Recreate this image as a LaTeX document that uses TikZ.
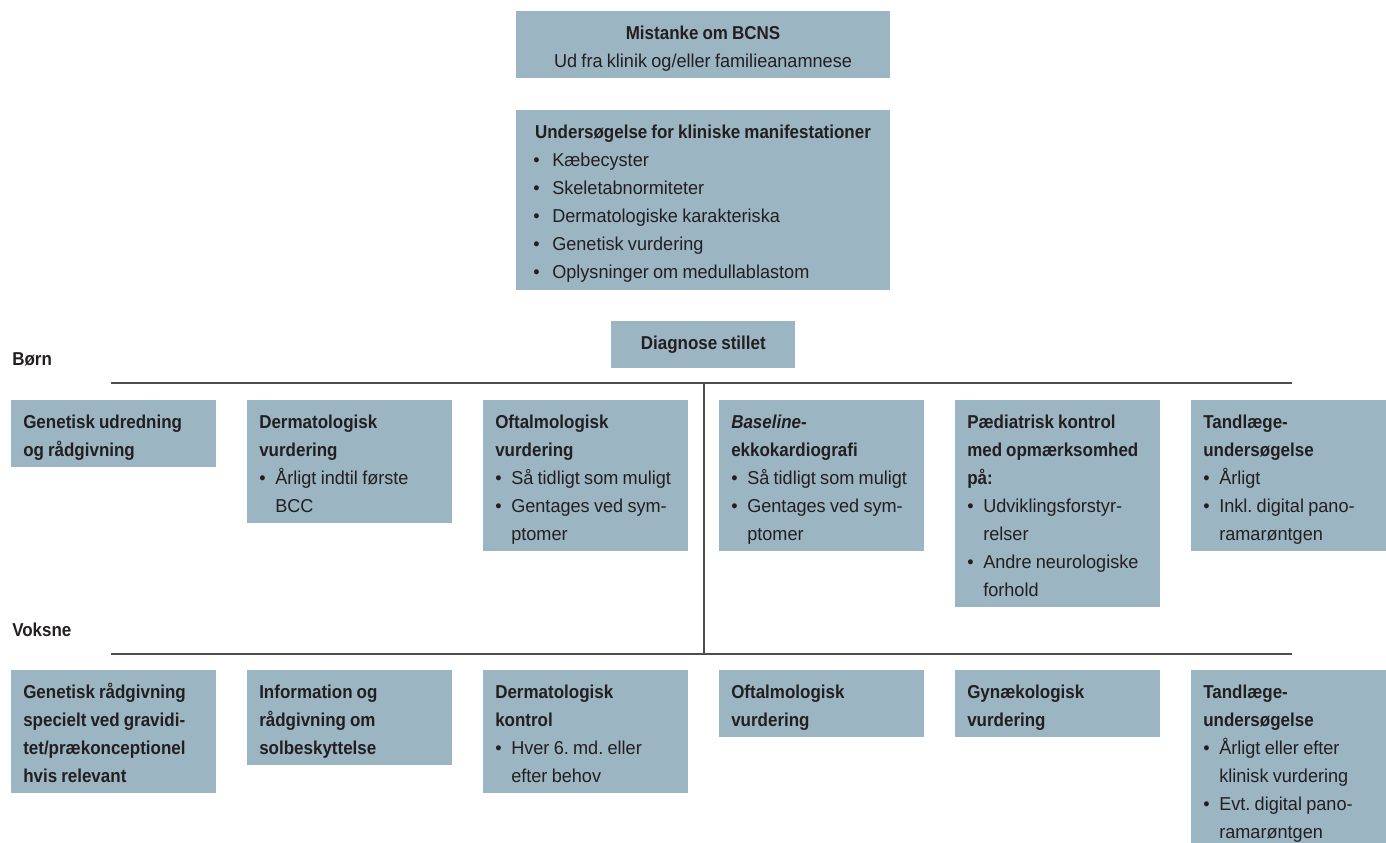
\documentclass[tikz,border=0pt]{standalone}
\usepackage{fontspec}
\newfontfamily\nar[WordSpace=0.85,
  UprightFeatures={FakeStretch=0.97},
  BoldFeatures={FakeStretch=0.91},
  ItalicFeatures={FakeStretch=0.97},
  BoldItalicFeatures={FakeStretch=0.91}]{Liberation Sans}
\definecolor{boxc}{HTML}{9CB5C3}
\definecolor{textc}{HTML}{231F20}
\definecolor{linec}{HTML}{4D4D4D}
\newcommand\fs{\nar\fontsize{14pt}{21pt}\selectfont\frenchspacing}
\newcommand\bu{\makebox[12pt][l]{•}}
\newcommand\bi{\hspace*{12pt}}
\newcommand\bub{\makebox[14.25pt][l]{•}}
\begin{document}
\begin{tikzpicture}[x=0.75pt,y=-0.75pt,
  box/.style={fill=boxc, inner sep=0pt, anchor=north west, minimum width=153.75pt},
  txt/.style={anchor=north west, inner sep=0pt, align=left, font=\fs, text=textc},
  ctxt/.style={inner sep=0pt, align=center, font=\fs, text=textc},
  lbl/.style={anchor=base west, inner sep=0pt, font=\fs\bfseries, text=textc},
  rule/.style={draw=linec, line width=1.3pt}]
\path[use as bounding box, clip] (0,0) rectangle (1386,843);
% top boxes
\node[box, minimum width=280.5pt, minimum height=50.25pt] (b1) at (516,11) {};
\node[ctxt, anchor=north] (t1) at (703,19.4) {\strut\textbf{Mistanke om BCNS}\\Ud fra klinik og/eller familieanamnese};
\node[box, minimum width=280.5pt, minimum height=135pt] (b2) at (516,110) {};
\node[ctxt, anchor=north] (t2) at (703,118.4) {\strut\textbf{Undersøgelse for kliniske manifestationer}};
\node[txt] (t2l) at (533,146.4) {\strut\bub Kæbecyster\\\bub Skeletabnormiteter\\\bub Dermatologiske karakteriska\\\bub Genetisk vurdering\\\bub Oplysninger om medullablastom};
\node[box, minimum width=138pt, minimum height=35.25pt, font=\fs\bfseries, text=textc] (b3) at (611,321) {Diagnose stillet};
% labels
\node[lbl] (born) at (12,365) {Børn};
\node[lbl] (voksne) at (12,636) {Voksne};
% rules
\coordinate (h1l) at (111,383); \coordinate (h1r) at (1292,383);
\coordinate (h2l) at (111,654); \coordinate (h2r) at (1292,654);
\coordinate (vt) at (704,383); \coordinate (vb) at (704,654);
\draw[rule] (h1l) -- (h1r);
\draw[rule] (h2l) -- (h2r);
\draw[rule] (vt) -- (vb);
% Boern row
\node[box, minimum height=50.25pt] (c1) at (11,400) {};
\node[box, minimum height=92.25pt] (c2) at (247,400) {};
\node[box, minimum height=113.25pt] (c3) at (483,400) {};
\node[box, minimum height=113.25pt] (c4) at (719,400) {};
\node[box, minimum height=155.25pt] (c5) at (955,400) {};
\node[box, minimum width=146.25pt, minimum height=113.25pt] (c6) at (1191,400) {};
\node[txt] (tc1) at ([shift={(12,8.4)}]c1.north west) {\strut\textbf{Genetisk udredning}\\\textbf{og rådgivning}};
\node[txt] (tc2) at ([shift={(12,8.4)}]c2.north west) {\strut\textbf{Dermatologisk}\\\textbf{vurdering}\\\bu Årligt indtil første\\\bi BCC};
\node[txt] (tc3) at ([shift={(12,8.4)}]c3.north west) {\strut\textbf{Oftalmologisk}\\\textbf{vurdering}\\\bu Så tidligt som muligt\\\bu Gentages ved sym-\\\bi ptomer};
\node[txt] (tc4) at ([shift={(12,8.4)}]c4.north west) {\strut\textbf{\textit{Baseline}-}\\\textbf{ekkokardiografi}\\\bu Så tidligt som muligt\\\bu Gentages ved sym-\\\bi ptomer};
\node[txt] (tc5) at ([shift={(12,8.4)}]c5.north west) {\strut\textbf{Pædiatrisk kontrol}\\\textbf{med opmærksomhed}\\\textbf{på:}\\\bu Udviklingsforstyr-\\\bi relser\\\bu Andre neurologiske\\\bi forhold};
\node[txt] (tc6) at ([shift={(12,8.4)}]c6.north west) {\strut\textbf{Tandlæge-}\\\textbf{undersøgelse}\\\bu Årligt\\\bu Inkl. digital pano-\\\bi ramarøntgen};
% Voksne row
\node[box, minimum height=92.25pt] (d1) at (11,670) {};
\node[box, minimum height=71.25pt] (d2) at (247,670) {};
\node[box, minimum height=92.25pt] (d3) at (483,670) {};
\node[box, minimum height=50.25pt] (d4) at (719,670) {};
\node[box, minimum height=50.25pt] (d5) at (955,670) {};
\node[box, minimum width=146.25pt, minimum height=134.25pt] (d6) at (1191,670) {};
\node[txt] (td1) at ([shift={(12,8.4)}]d1.north west) {\strut\textbf{Genetisk rådgivning}\\\textbf{specielt ved gravidi-}\\\textbf{tet/prækonceptionel}\\\textbf{hvis relevant}};
\node[txt] (td2) at ([shift={(12,8.4)}]d2.north west) {\strut\textbf{Information og}\\\textbf{rådgivning om}\\\textbf{solbeskyttelse}};
\node[txt] (td3) at ([shift={(12,8.4)}]d3.north west) {\strut\textbf{Dermatologisk}\\\textbf{kontrol}\\\bu Hver 6. md. eller\\\bi efter behov};
\node[txt] (td4) at ([shift={(12,8.4)}]d4.north west) {\strut\textbf{Oftalmologisk}\\\textbf{vurdering}};
\node[txt] (td5) at ([shift={(12,8.4)}]d5.north west) {\strut\textbf{Gynækologisk}\\\textbf{vurdering}};
\node[txt] (td6) at ([shift={(12,8.4)}]d6.north west) {\strut\textbf{Tandlæge-}\\\textbf{undersøgelse}\\\bu Årligt eller efter\\\bi klinisk vurdering\\\bu Evt. digital pano-\\\bi ramarøntgen};
\end{tikzpicture}
\end{document}
